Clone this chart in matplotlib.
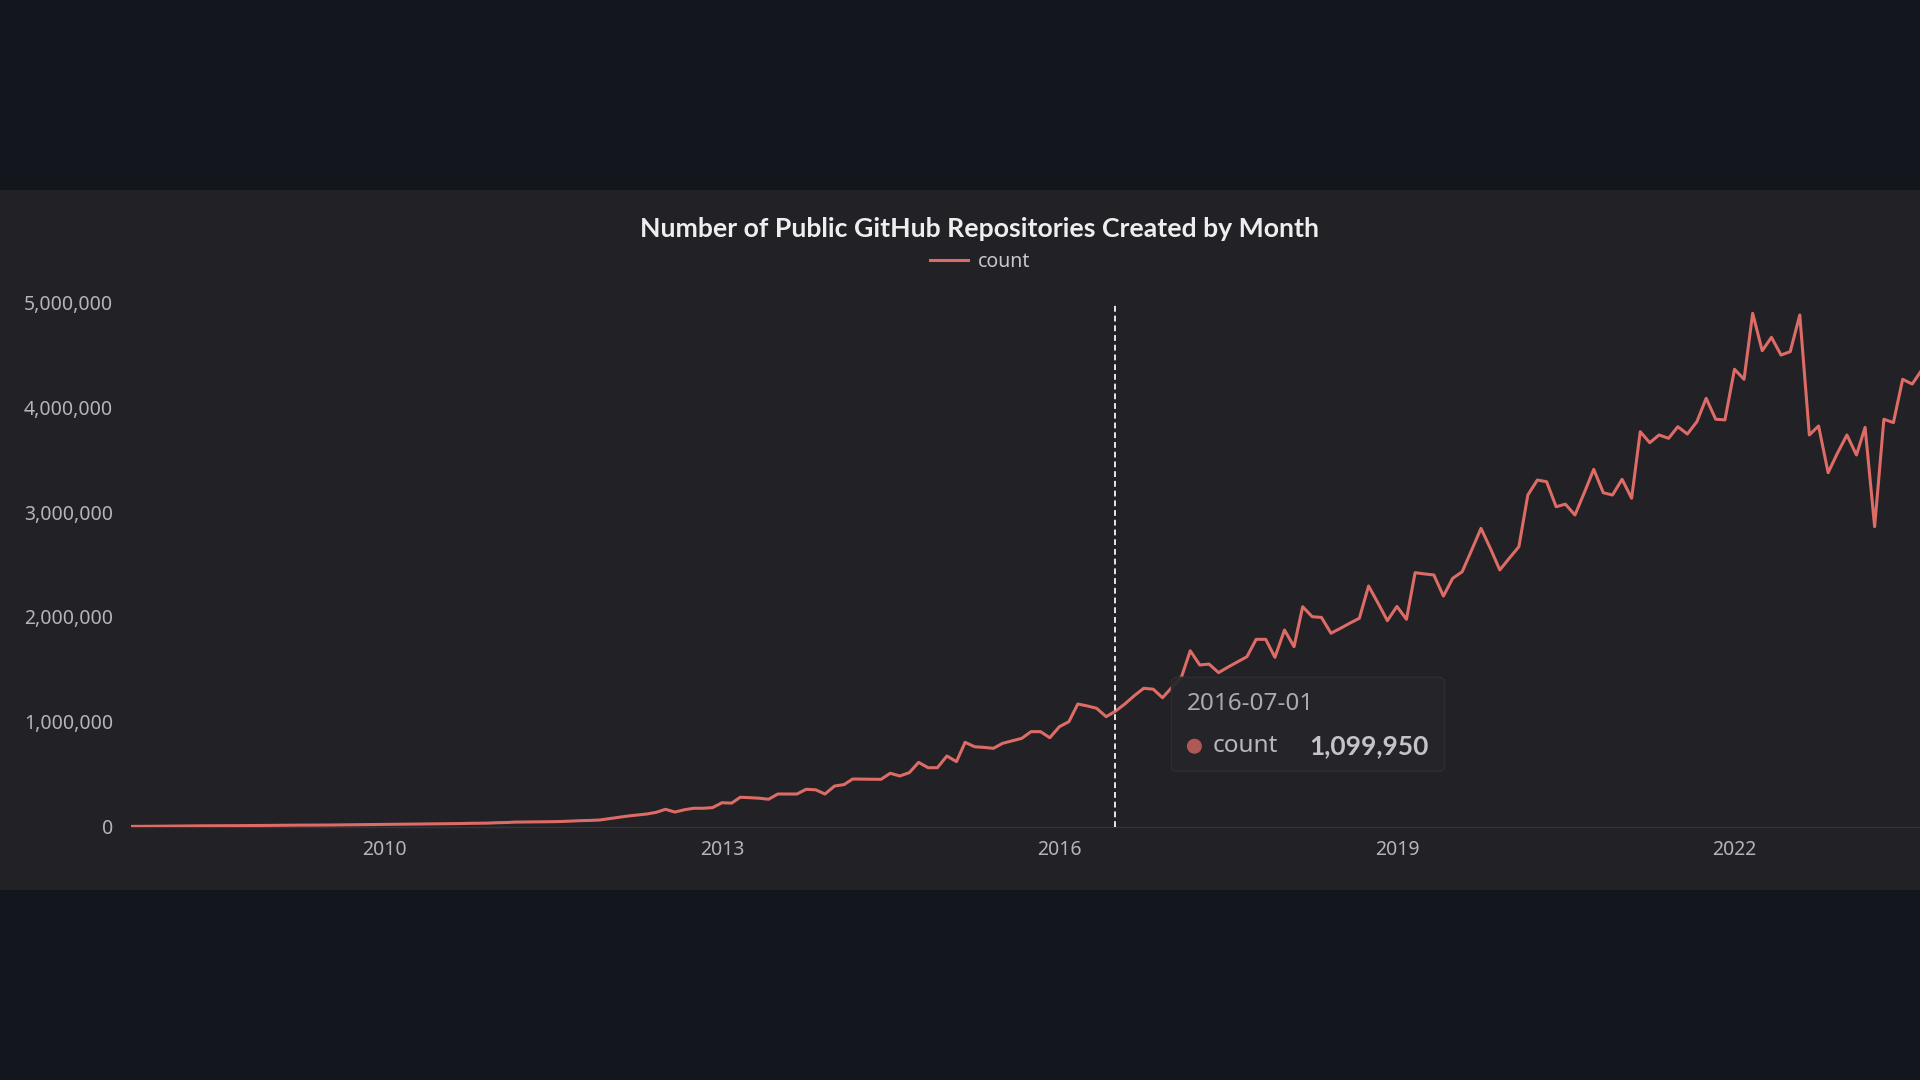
import numpy as np
import pandas as pd
import matplotlib
matplotlib.use("Agg")
import matplotlib.pyplot as plt
import matplotlib.dates as mdates
from matplotlib.patches import Rectangle, FancyBboxPatch, Circle
from matplotlib.ticker import FuncFormatter

# --- data (monthly counts) ---
start_month = "2007-10-01"
counts = [
    1000, 1000, 2000,
    3000, 4000, 5000, 6000, 6000, 7000, 7000, 8000, 8000, 9000, 9000, 10000,
    11000, 11000, 12000, 13000, 13000, 14000, 14000, 15000, 16000, 16000, 17000, 18000,
    19000, 20000, 22000, 23000, 24000, 25000, 26000, 27000, 28000, 30000, 31000, 32000,
    36000, 38000, 42000, 43000, 44000, 45000, 46000, 48000, 52000, 56000, 58000, 62000,
    75000, 88000, 100000, 110000, 119000, 135000, 164000, 138000, 160000, 174000, 174000, 180000,
    227000, 223000, 279000, 275000, 270000, 260000, 310000, 310000, 310000, 355000, 350000, 310000,
    386000, 400000, 453000, 452000, 450000, 450000, 508000, 482000, 514000, 612000, 561000, 561000,
    673000, 619000, 803000, 761000, 755000, 746000, 794000, 818000, 841000, 905000, 905000, 847000,
    952000, 1000000, 1169000, 1150000, 1128000, 1048000, 1099950, 1170000, 1250000, 1319000, 1310000, 1229000,
    1330000, 1430000, 1677000, 1541000, 1550000, 1468000, 1520000, 1570000, 1620000, 1786000, 1786000, 1614000,
    1875000, 1716000, 2097000, 2002000, 1995000, 1844000, 1890000, 1940000, 1987000, 2295000, 2130000, 1964000,
    2100000, 1977000, 2422000, 2410000, 2400000, 2199000, 2368000, 2431000, 2640000, 2845000, 2650000, 2448000,
    2560000, 2670000, 3163000, 3306000, 3290000, 3051000, 3076000, 2972000, 3190000, 3408000, 3185000, 3163000,
    3313000, 3132000, 3767000, 3662000, 3736000, 3704000, 3815000, 3745000, 3863000, 4086000, 3886000, 3880000,
    4363000, 4267000, 4897000, 4540000, 4668000, 4499000, 4531000, 4881000, 3736000, 3822000, 3376000, 3561000,
    3736000, 3545000, 3809000, 2861000, 3886000, 3854000, 4267000, 4222000, 4356000,
]
x_ticks = ["2010-01-01", "2013-01-01", "2016-01-01", "2019-01-01", "2022-01-01"]
y_ticks = [0, 1000000, 2000000, 3000000, 4000000, 5000000]
hover_date = "2016-07-01"

dates = pd.date_range(start_month, periods=len(counts), freq="MS")
hover_value = counts[list(dates).index(pd.Timestamp(hover_date))]

# --- style ---
W, H = 1920, 1080
bg_outer = "#14161e"
bg_panel = "#212126"
line_color = "#dd6b66"
label_color = "#b4b4ba"
plt.rcParams["font.family"] = ["Noto Sans", "DejaVu Sans"]
bold_font = ["Lato", "DejaVu Sans"]

fig = plt.figure(figsize=(W / 100, H / 100), dpi=100)
fig.patch.set_facecolor(bg_outer)
fig.add_artist(Rectangle((0, 1 - 890 / H), 1, 700 / H, transform=fig.transFigure,
                         facecolor=bg_panel, edgecolor="none", zorder=0))

# plot area: left 131px, bottom at y=826.5, top at y=302.5, runs off the right edge
ax = fig.add_axes([131 / W, 1 - 826.5 / H, (W - 131) / W, 524 / H])
ax.set_facecolor("none")

line, = ax.plot(dates, counts, color=line_color, linewidth=2.2, label="count", zorder=3,
                solid_joinstyle="round")

x0 = mdates.date2num(dates[0])
ax.set_xlim(x0, x0 + (W - 131) / 112.5 * 365.25)
ax.set_ylim(0, 5000000)

ax.set_yticks(y_ticks)
ax.yaxis.set_major_formatter(FuncFormatter(lambda v, p: f"{int(v):,}"))
ax.set_xticks([mdates.date2num(pd.Timestamp(d)) for d in x_ticks])
ax.xaxis.set_major_formatter(mdates.DateFormatter("%Y"))
ax.tick_params(axis="y", length=0, pad=13, labelsize=14, labelcolor=label_color)
ax.tick_params(axis="x", length=0, pad=10, labelsize=14, labelcolor=label_color)
for s in ["top", "right", "left"]:
    ax.spines[s].set_visible(False)
ax.spines["bottom"].set_color("#34343a")
ax.spines["bottom"].set_linewidth(1.0)

# axis pointer at the hovered month
hx = mdates.date2num(pd.Timestamp(hover_date))
ax.axvline(hx, color="#e6e6e6", linewidth=1.4, linestyle=(0, (3, 2)), zorder=4)

# title + legend
fig.text(979 / W, 1 - 229 / H, "Number of Public GitHub Repositories Created by Month",
         ha="center", va="center", fontsize=19.2, fontweight="bold", color="#eeeeee",
         family=bold_font)
fig.legend(handles=[line], loc="center", bbox_to_anchor=(980 / W, 1 - 262 / H),
           bbox_transform=fig.transFigure, frameon=False, fontsize=14,
           labelcolor="#c8c8cc", handlelength=2.0, handletextpad=0.5)

# tooltip, placed relative to the hovered point
fig.canvas.draw()
px, py = ax.transData.transform((hx, hover_value))
bx0, by1 = px + 56, py + 34
bw, bh = 273, 94
fig.add_artist(FancyBboxPatch((bx0 / W, (by1 - bh) / H), bw / W, bh / H,
                              boxstyle="round,pad=0,rounding_size=0.004",
                              transform=fig.transFigure, facecolor="#26262a",
                              edgecolor="#2e2e33", linewidth=1.0, alpha=0.93, zorder=10))
fig.text((bx0 + 15) / W, (by1 - 27) / H, hover_date, ha="left", va="center",
         fontsize=17.5, color="#ababaf", zorder=11)
fig.add_artist(Circle(((bx0 + 23) / 100, (by1 - 69) / 100), 0.075,
                      transform=fig.dpi_scale_trans,
                      facecolor=line_color, alpha=0.75, edgecolor="none", zorder=11))
fig.text((bx0 + 41) / W, (by1 - 69) / H, "count", ha="left", va="center",
         fontsize=17.5, color="#b8b8bc", zorder=11)
fig.text((bx0 + 257) / W, (by1 - 69) / H, f"{hover_value:,}", ha="right", va="center",
         fontsize=19, fontweight="bold", color="#c4c4c8", zorder=11, family=bold_font)

fig.savefig("out.png", dpi=100, facecolor=fig.get_facecolor())
